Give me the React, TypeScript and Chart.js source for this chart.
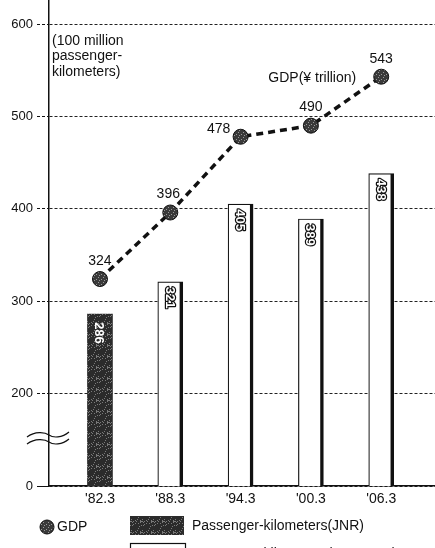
import { useEffect, useRef } from 'react';
import { Chart, registerables } from 'chart.js';

Chart.register(...registerables);

// Survey years on the horizontal axis
const categories = ["'82.3", "'88.3", "'94.3", "'00.3", "'06.3"];
// Passenger-kilometers, 100 million (JNR era, then JR Group)
const jnrKm: (number | null)[] = [286, null, null, null, null];
const jrGroupKm: (number | null)[] = [null, 321, 405, 389, 438];
// GDP, trillion yen
const gdp = [324, 396, 478, 490, 543];
// Vertical axis: the lowest tick sits below the axis break and reads "0"
const yTickValues = [100, 200, 300, 400, 500, 600];
const yTickLabels = ['0', '200', '300', '400', '500', '600'];

const FONT = '"Liberation Sans", Arial, Helvetica, sans-serif';

function grain(base: string, speck: string, size: number, every: number) {
  const c = document.createElement('canvas');
  c.width = size;
  c.height = size;
  const g = c.getContext('2d')!;
  g.fillStyle = base;
  g.fillRect(0, 0, size, size);
  g.fillStyle = speck;
  let s = 7;
  for (let i = 0; i < size * size; i++) {
    s = (s * 73 + 19) % 101;
    if (s % every === 0) g.fillRect(i % size, Math.floor(i / size), 1, 1);
  }
  return g.createPattern(c, 'repeat')!;
}

export default function App() {
  const ref = useRef<HTMLCanvasElement>(null);

  useEffect(() => {
    const canvas = ref.current!;
    const ctx0 = canvas.getContext('2d')!;
    const darkFill = grain('#2b2b2b', '#7a7a7a', 11, 6);
    const dotFill = grain('#3a3a3a', '#9a9a9a', 5, 4);

    const toPoints = (arr: (number | null)[]) =>
      arr.map((v, i) => (v == null ? null : { x: i, y: v })).filter(Boolean) as { x: number; y: number }[];

    const decorations = {
      id: 'decorations',
      afterDraw(chart: any) {
        const ctx: CanvasRenderingContext2D = chart.ctx;
        const area = chart.chartArea;

        // rotated value labels inside the bars
        const barLabel = (text: string, x: number, y: number, outlined: boolean) => {
          ctx.save();
          ctx.translate(x, y);
          ctx.rotate(Math.PI / 2);
          ctx.font = `bold 13px ${FONT}`;
          ctx.textAlign = 'left';
          ctx.textBaseline = 'middle';
          if (outlined) {
            ctx.lineWidth = 2.4;
            ctx.strokeStyle = '#111';
            ctx.lineJoin = 'round';
            ctx.strokeText(text, 0, 0);
          }
          ctx.fillStyle = '#fff';
          ctx.fillText(text, 0, 0);
          ctx.restore();
        };
        [0, 1].forEach((di) => {
          const meta = chart.getDatasetMeta(di);
          const ds = chart.data.datasets[di];
          meta.data.forEach((el: any, j: number) => {
            const v = ds.data[j].y;
            barLabel(String(v), el.x - 1, el.y + (di === 0 ? 8 : 5), di === 1);
          });
        });

        // GDP value labels
        const lineMeta = chart.getDatasetMeta(2);
        const offsets = [[0, -18], [-2, -18], [-22, -8], [0, -19], [0, -18]];
        ctx.save();
        ctx.font = `14px ${FONT}`;
        ctx.fillStyle = '#111';
        ctx.textAlign = 'center';
        ctx.textBaseline = 'middle';
        lineMeta.data.forEach((pt: any, j: number) => {
          ctx.fillText(String(gdp[j]), pt.x + offsets[j][0], pt.y + offsets[j][1]);
        });
        const last = lineMeta.data[lineMeta.data.length - 1];
        ctx.textAlign = 'right';
        ctx.fillText('GDP(¥ trillion)', last.x - 25, last.y + 1);

        // unit note
        ctx.textAlign = 'left';
        ['(100 million', 'passenger-', 'kilometers)'].forEach((t, i) => {
          ctx.fillText(t, area.left + 3, 41 + i * 15.5);
        });

        // axis break marks
        ctx.strokeStyle = '#111';
        ctx.lineWidth = 1.2;
        [435, 442].forEach((y) => {
          ctx.beginPath();
          ctx.moveTo(27, y + 2);
          ctx.bezierCurveTo(35, y - 4, 45, y - 3, 49, y);
          ctx.bezierCurveTo(53, y + 3, 62, y + 3, 69, y - 3);
          ctx.stroke();
        });

        // legend
        ctx.fillStyle = dotFill;
        ctx.beginPath();
        ctx.arc(47, 527, 7, 0, Math.PI * 2);
        ctx.fill();
        ctx.lineWidth = 1;
        ctx.strokeStyle = '#111';
        ctx.stroke();
        ctx.fillStyle = '#111';
        ctx.textBaseline = 'middle';
        ctx.fillText('GDP', 57, 527);

        ctx.fillStyle = darkFill;
        ctx.fillRect(130, 516, 54, 19);
        ctx.fillStyle = '#111';
        ctx.fillText('Passenger-kilometers(JNR)', 192, 526);

        ctx.fillStyle = '#fff';
        ctx.fillRect(130, 543, 55, 20);
        ctx.strokeStyle = '#111';
        ctx.lineWidth = 1.2;
        ctx.strokeRect(130.5, 543.5, 55, 20);
        ctx.fillStyle = '#111';
        ctx.fillText('Passenger-kilometers(JR Group)', 192, 554);
        ctx.restore();
      },
    };

    const chart = new Chart(ctx0, {
      type: 'bar',
      data: {
        datasets: [
          {
            type: 'bar',
            label: 'Passenger-kilometers(JNR)',
            data: toPoints(jnrKm),
            backgroundColor: darkFill,
            borderColor: '#111',
            borderWidth: 0,
            barThickness: 25,
            grouped: false,
            order: 2,
          } as any,
          {
            type: 'bar',
            label: 'Passenger-kilometers(JR Group)',
            data: toPoints(jrGroupKm),
            backgroundColor: '#fff',
            borderColor: '#111',
            borderWidth: { top: 1.2, left: 1.2, right: 3.5, bottom: 0 },
            borderSkipped: false,
            barThickness: 25,
            grouped: false,
            order: 2,
          } as any,
          {
            type: 'line',
            label: 'GDP',
            data: gdp.map((v, i) => ({ x: i, y: v })),
            borderColor: '#111',
            borderWidth: 3.5,
            borderDash: [7, 5],
            pointRadius: 7.5,
            pointBackgroundColor: dotFill,
            pointBorderColor: '#111',
            pointBorderWidth: 1,
            order: 0,
          } as any,
        ],
      },
      options: {
        responsive: false,
        animation: false,
        devicePixelRatio: 1,
        layout: { padding: 0, autoPadding: false },
        plugins: { legend: { display: false }, tooltip: { enabled: false } },
        scales: {
          x: {
            type: 'linear',
            offset: false,
            min: -0.725,
            max: 4.765,
            afterFit: (s: any) => {
              s.height = 62;
              s.paddingLeft = 0;
              s.paddingRight = 0;
            },
            afterBuildTicks: (s: any) => {
              s.ticks = categories.map((_, i) => ({ value: i }));
            },
            ticks: {
              padding: 5,
              color: '#111',
              font: { family: FONT, size: 14 },
              callback: (v: any) => categories[v as number] ?? '',
              maxRotation: 0,
              autoSkip: false,
            },
            grid: { display: false, drawTicks: false, offset: false },
            border: { color: '#111', width: 1.5 },
          },
          y: {
            min: 100,
            max: 626,
            afterFit: (s: any) => {
              s.width = 49;
              s.paddingTop = 0;
              s.paddingBottom = 0;
            },
            afterBuildTicks: (s: any) => {
              s.ticks = yTickValues.map((v) => ({ value: v }));
            },
            ticks: {
              padding: 4,
              color: '#111',
              font: { family: FONT, size: 13 },
              callback: (v: any) => yTickLabels[yTickValues.indexOf(v as number)] ?? '',
            },
            grid: {
              color: '#222',
              lineWidth: 1,
              tickLength: 12,
              tickColor: '#111',
              tickBorderDash: ((c: any) => (c.tick && c.tick.value === 100 ? [] : [3, 2])) as any,
            } as any,
            border: { color: '#111', width: 1.5, dash: [3, 2] },
          },
        },
      },
      plugins: [decorations],
    } as any);

    return () => chart.destroy();
  }, []);

  return (
    <div style={{ position: 'fixed', left: 0, top: 0, width: 435, height: 548, background: '#fff' }}>
      <canvas ref={ref} width={435} height={548} style={{ display: 'block' }} />
    </div>
  );
}
